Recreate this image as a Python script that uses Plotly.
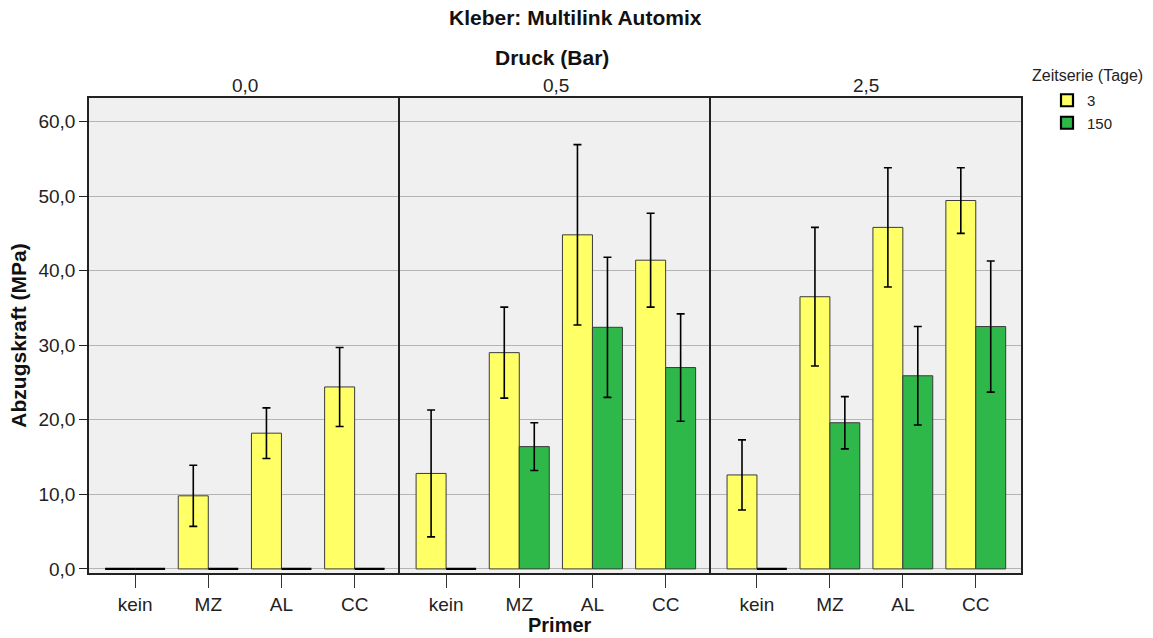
import plotly.graph_objects as go

# ---- data ----
primers = ["kein", "MZ", "AL", "CC"]
pressures = ["0,0", "0,5", "2,5"]
series_names = ["3", "150"]

# means (MPa) per pressure panel, per primer
days3_means = [
    [0.0, 9.8, 18.2, 24.4],
    [12.8, 29.0, 44.8, 41.4],
    [12.6, 36.5, 45.8, 49.4],
]
days150_means = [
    [0.0, 0.0, 0.0, 0.0],
    [0.0, 16.4, 32.4, 27.0],
    [0.0, 19.6, 25.9, 32.5],
]
# error bar half-widths
days3_err = [
    [0.0, 4.1, 3.4, 5.3],
    [8.5, 6.1, 12.1, 6.3],
    [4.7, 9.3, 8.0, 4.4],
]
days150_err = [
    [0.0, 0.0, 0.0, 0.0],
    [0.0, 3.2, 9.4, 7.2],
    [0.0, 3.5, 6.6, 8.8],
]

yellow = "#ffff66"
green = "#2fb84a"
font_family = "Liberation Sans, Arial, sans-serif"
tick_size = 19
title_size = 21

fig = go.Figure()

L, R, T, B = 89, 132, 98, 65
W, H = 1153, 638
pw = W - L - R
ph = H - T - B
edges_px = [89, 400, 711, 1021]
domains = [[(edges_px[i] - L) / pw, (edges_px[i + 1] - L) / pw] for i in range(3)]

for i in range(3):
    xa = "x" if i == 0 else f"x{i+1}"
    ya = "y" if i == 0 else f"y{i+1}"
    for vals, errs, color, name in [
        (days3_means[i], days3_err[i], yellow, series_names[0]),
        (days150_means[i], days150_err[i], green, series_names[1]),
    ]:
        lw = [2.2 if v == 0 else 1 for v in vals]
        lc = ["#000000" if v == 0 else "#3a3a3a" for v in vals]
        fig.add_trace(go.Bar(
            x=primers, y=vals, name=name, legendgroup=name,
            showlegend=(i == 0), xaxis=xa, yaxis=ya,
            marker=dict(color=color, line=dict(color=lc, width=lw)),
            error_y=dict(type="data", array=errs, visible=True,
                         color="black", thickness=1.6, width=4),
        ))

axes = {}
yrange = [-0.55, 63.15]
yticks = [0, 10, 20, 30, 40, 50, 60]
for i in range(3):
    xkey = "xaxis" if i == 0 else f"xaxis{i+1}"
    ykey = "yaxis" if i == 0 else f"yaxis{i+1}"
    xname = "x" if i == 0 else f"x{i+1}"
    axes[xkey] = dict(
        domain=domains[i], anchor="y" if i == 0 else f"y{i+1}", type="category",
        categoryorder="array", categoryarray=primers,
        range=[-0.63, 3.62],
        showgrid=False, zeroline=False,
        ticks="outside", ticklen=13, tickcolor="#333333", tickwidth=1,
        tickfont=dict(size=tick_size, color="#222222", family=font_family),
        showline=True, linecolor="#222222", linewidth=1.5, mirror=True,
    )
    yd = dict(
        anchor=xname, range=yrange, tickvals=yticks,
        tickformat=".1f", showgrid=True, gridcolor="#b4b4b4", gridwidth=1,
        zeroline=False,
        showline=True, linecolor="#222222", linewidth=1.5, mirror=(i == 2),
    )
    if i == 0:
        yd.update(
            ticks="outside", ticklen=8, tickcolor="#222222",
            tickfont=dict(size=tick_size, color="#222222", family=font_family),
            title=dict(text="<b>Abzugskraft (MPa)</b>",
                       font=dict(size=title_size, color="#111111", family=font_family),
                       standoff=6),
        )
    else:
        yd.update(ticks="", showticklabels=False, matches="y")
    axes[ykey] = yd

fig.update_layout(
    **axes,
    separators=",.",
    barmode="group", bargap=0.18, bargroupgap=0,
    width=W, height=H,
    margin=dict(l=L, r=R, t=T, b=B),
    paper_bgcolor="white", plot_bgcolor="#f0f0f0",
    font=dict(family=font_family, color="#111111"),
    legend=dict(
        font=dict(size=15, color="#222222"),
        x=(1047 - L) / pw, xanchor="left", y=1 + (T - 84) / ph, yanchor="top",
        bgcolor="rgba(0,0,0,0)", itemwidth=30, tracegroupgap=0,
    ),
    showlegend=True,
)

fig.add_annotation(text="Zeitserie (Tage)", xref="paper", yref="paper",
                   x=(1030 - L) / pw, y=1 + (T - 75) / ph, showarrow=False,
                   font=dict(size=16, color="#222222"), xanchor="left", yanchor="middle")
fig.add_annotation(text="<b>Kleber: Multilink Automix</b>", xref="paper", yref="paper",
                   x=(575 - L) / pw, y=1 + (T - 18) / ph, showarrow=False,
                   font=dict(size=title_size, color="#111111"), xanchor="center", yanchor="middle")
fig.add_annotation(text="<b>Druck (Bar)</b>", xref="paper", yref="paper",
                   x=(552 - L) / pw, y=1 + (T - 58) / ph, showarrow=False,
                   font=dict(size=title_size, color="#111111"), xanchor="center", yanchor="middle")
for i, p in enumerate(pressures):
    cx = (domains[i][0] + domains[i][1]) / 2
    fig.add_annotation(text=p, xref="paper", yref="paper",
                       x=cx, y=1 + (T - 86) / ph, showarrow=False,
                       font=dict(size=tick_size, color="#222222"), xanchor="center", yanchor="middle")
fig.add_annotation(text="<b>Primer</b>", xref="paper", yref="paper",
                   x=(560 - L) / pw, y=-(625 - (H - B)) / ph, showarrow=False,
                   font=dict(size=20, color="#111111"), xanchor="center", yanchor="middle")

fig.write_html("out.html", config={"displayModeBar": False},
               post_script="document.body.style.margin='0';document.body.style.overflow='hidden';")
